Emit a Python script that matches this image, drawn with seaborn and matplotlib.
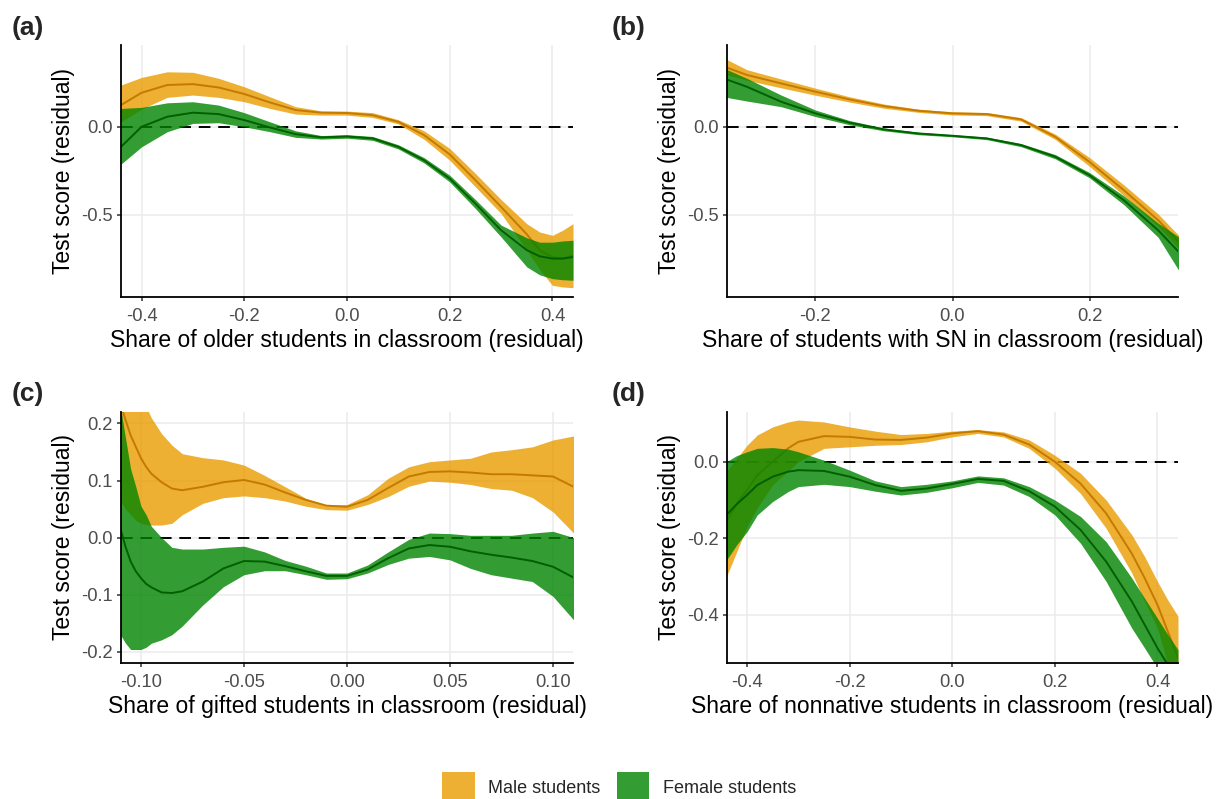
import numpy as np
import pandas as pd
import matplotlib
matplotlib.use("Agg")
import matplotlib.pyplot as plt
from matplotlib.patches import Patch
import seaborn as sns

sns.set_theme(style="white")
plt.rcParams['font.family'] = ['Liberation Sans', 'DejaVu Sans']
plt.rcParams['axes.unicode_minus'] = False

# ---------------- data ----------------
# Panel (a): older students
a_x = [-0.44, -0.40, -0.35, -0.30, -0.25, -0.20, -0.15, -0.10, -0.05, 0.00,
       0.05, 0.10, 0.15, 0.20, 0.25, 0.30, 0.35, 0.375, 0.40, 0.42, 0.44]
a_male = [0.123, 0.193, 0.237, 0.242, 0.223, 0.186, 0.138, 0.095, 0.080, 0.078,
          0.066, 0.028, -0.047, -0.157, -0.303, -0.455, -0.610, -0.700, -0.740, -0.748, -0.730]
a_male_hi = [0.237, 0.280, 0.312, 0.309, 0.275, 0.227, 0.170, 0.114, 0.090, 0.089,
             0.080, 0.040, -0.023, -0.123, -0.265, -0.413, -0.550, -0.597, -0.616, -0.587, -0.550]
a_male_lo = [0.028, 0.100, 0.167, 0.180, 0.167, 0.142, 0.104, 0.072, 0.066, 0.066,
             0.053, 0.016, -0.071, -0.190, -0.341, -0.492, -0.700, -0.810, -0.900, -0.909, -0.913]
a_fem = [-0.114, 0.000, 0.057, 0.080, 0.072, 0.038, -0.004, -0.042, -0.060, -0.055,
         -0.066, -0.114, -0.190, -0.294, -0.436, -0.587, -0.700, -0.735, -0.748, -0.748, -0.739]
a_fem_hi = [0.104, 0.110, 0.136, 0.142, 0.123, 0.080, 0.028, -0.023, -0.050, -0.045,
            -0.055, -0.102, -0.175, -0.275, -0.413, -0.558, -0.630, -0.655, -0.655, -0.648, -0.644]
a_fem_lo = [-0.212, -0.114, -0.028, 0.019, 0.023, 0.000, -0.028, -0.060, -0.070, -0.065,
            -0.077, -0.126, -0.205, -0.313, -0.464, -0.625, -0.795, -0.840, -0.862, -0.868, -0.871]

# Panel (b): students with SN
b_x = [-0.33, -0.30, -0.25, -0.20, -0.15, -0.10, -0.05, 0.00, 0.05, 0.10,
       0.15, 0.20, 0.25, 0.30, 0.33]
b_male = [0.337, 0.294, 0.246, 0.199, 0.155, 0.117, 0.091, 0.076, 0.072, 0.042,
          -0.057, -0.200, -0.360, -0.530, -0.653]
b_male_hi = [0.383, 0.324, 0.271, 0.219, 0.170, 0.129, 0.100, 0.085, 0.081, 0.052,
             -0.042, -0.175, -0.330, -0.495, -0.616]
b_male_lo = [0.295, 0.264, 0.221, 0.179, 0.140, 0.105, 0.082, 0.067, 0.063, 0.032,
             -0.072, -0.225, -0.390, -0.565, -0.690]
b_fem = [0.269, 0.227, 0.142, 0.076, 0.023, -0.015, -0.038, -0.051, -0.066, -0.104,
         -0.170, -0.275, -0.417, -0.587, -0.710]
b_fem_hi = [0.326, 0.275, 0.180, 0.095, 0.035, -0.007, -0.031, -0.045, -0.059, -0.095,
            -0.158, -0.260, -0.392, -0.547, -0.625]
b_fem_lo = [0.167, 0.146, 0.114, 0.058, 0.011, -0.023, -0.045, -0.057, -0.073, -0.113,
            -0.182, -0.290, -0.442, -0.627, -0.814]

# Panel (c): gifted students
c_x = [-0.110, -0.1075, -0.105, -0.1025, -0.100, -0.0975, -0.095, -0.090, -0.085, -0.080,
       -0.070, -0.060, -0.050, -0.040, -0.030, -0.020, -0.010, 0.000, 0.010, 0.020,
       0.030, 0.040, 0.050, 0.060, 0.070, 0.080, 0.090, 0.100, 0.110]
c_male = [0.235, 0.206, 0.179, 0.159, 0.139, 0.124, 0.112, 0.097, 0.086, 0.083,
          0.089, 0.097, 0.101, 0.093, 0.079, 0.066, 0.056, 0.054, 0.066, 0.087,
          0.107, 0.115, 0.116, 0.114, 0.111, 0.111, 0.109, 0.107, 0.089]
c_male_hi = [0.400, 0.380, 0.350, 0.300, 0.250, 0.230, 0.210, 0.182, 0.162, 0.147,
             0.140, 0.136, 0.127, 0.109, 0.089, 0.069, 0.057, 0.058, 0.075, 0.104,
             0.124, 0.133, 0.136, 0.139, 0.150, 0.154, 0.159, 0.171, 0.178]
c_male_lo = [0.065, 0.050, 0.040, 0.030, 0.025, 0.023, 0.022, 0.022, 0.025, 0.040,
             0.060, 0.070, 0.073, 0.070, 0.064, 0.055, 0.049, 0.048, 0.058, 0.072,
             0.090, 0.099, 0.097, 0.093, 0.086, 0.083, 0.070, 0.045, 0.008]
c_fem = [0.016, -0.016, -0.042, -0.059, -0.071, -0.081, -0.087, -0.096, -0.097, -0.094,
         -0.077, -0.054, -0.041, -0.042, -0.050, -0.059, -0.067, -0.067, -0.056, -0.036,
         -0.019, -0.013, -0.016, -0.024, -0.030, -0.035, -0.041, -0.051, -0.070]
c_fem_hi = [0.230, 0.174, 0.120, 0.089, 0.055, 0.040, 0.020, 0.000, -0.017, -0.020,
            -0.020, -0.017, -0.015, -0.025, -0.040, -0.050, -0.062, -0.062, -0.048, -0.025,
            -0.003, 0.008, 0.007, 0.004, 0.004, 0.004, 0.008, 0.011, 0.000]
c_fem_lo = [-0.170, -0.185, -0.196, -0.196, -0.196, -0.192, -0.185, -0.179, -0.170, -0.155,
            -0.118, -0.086, -0.065, -0.058, -0.058, -0.065, -0.073, -0.072, -0.062, -0.047,
            -0.036, -0.033, -0.039, -0.054, -0.065, -0.071, -0.077, -0.103, -0.144]

# Panel (d): nonnative students
d_x = [-0.44, -0.42, -0.40, -0.38, -0.35, -0.32, -0.30, -0.25, -0.20, -0.15,
       -0.10, -0.05, 0.00, 0.05, 0.10, 0.15, 0.20, 0.25, 0.30, 0.35,
       0.375, 0.40, 0.42, 0.44]
d_male = [-0.157, -0.109, -0.074, -0.035, 0.000, 0.035, 0.052, 0.067, 0.065, 0.058,
          0.057, 0.063, 0.074, 0.080, 0.071, 0.045, 0.000, -0.057, -0.135, -0.240,
          -0.304, -0.374, -0.443, -0.513]
d_male_hi = [-0.026, 0.009, 0.043, 0.070, 0.091, 0.104, 0.109, 0.104, 0.091, 0.080,
             0.071, 0.074, 0.080, 0.084, 0.078, 0.057, 0.017, -0.030, -0.100, -0.191,
             -0.248, -0.313, -0.361, -0.404]
d_male_lo = [-0.300, -0.235, -0.170, -0.120, -0.060, -0.025, 0.000, 0.035, 0.039, 0.043,
             0.045, 0.052, 0.065, 0.074, 0.065, 0.035, -0.017, -0.083, -0.174, -0.291,
             -0.365, -0.435, -0.530, -0.620]
d_fem = [-0.139, -0.111, -0.087, -0.061, -0.039, -0.026, -0.022, -0.024, -0.039, -0.061,
         -0.076, -0.070, -0.058, -0.045, -0.050, -0.077, -0.117, -0.178, -0.261, -0.365,
         -0.426, -0.487, -0.530, -0.574]
d_fem_hi = [0.000, 0.016, 0.026, 0.035, 0.037, 0.033, 0.026, 0.004, -0.022, -0.050,
            -0.065, -0.059, -0.050, -0.037, -0.042, -0.065, -0.100, -0.143, -0.209, -0.304,
            -0.357, -0.409, -0.452, -0.491]
d_fem_lo = [-0.257, -0.217, -0.183, -0.139, -0.104, -0.078, -0.065, -0.059, -0.065, -0.077,
            -0.087, -0.080, -0.068, -0.054, -0.061, -0.091, -0.139, -0.213, -0.313, -0.435,
            -0.487, -0.540, -0.590, -0.630]

panel_tags = ["(a)", "(b)", "(c)", "(d)"]
x_titles = ["Share of older students in classroom (residual)",
            "Share of students with SN in classroom (residual)",
            "Share of gifted students in classroom (residual)",
            "Share of nonnative students in classroom (residual)"]
y_title = "Test score (residual)"
legend_labels = ["Male students", "Female students"]

a_xticks = [-0.4, -0.2, 0.0, 0.2, 0.4]
b_xticks = [-0.2, 0.0, 0.2]
c_xticks = [-0.10, -0.05, 0.00, 0.05, 0.10]
d_xticks = [-0.4, -0.2, 0.0, 0.2, 0.4]
a_yticks = [-0.5, 0.0]
b_yticks = [-0.5, 0.0]
c_yticks = [-0.2, -0.1, 0.0, 0.1, 0.2]
d_yticks = [-0.4, -0.2, 0.0]

# ---------------- styling ----------------
MALE_FILL = "#E99C00"
FEM_FILL = "#008500"
MALE_LINE = "#C47A00"
FEM_LINE = "#006000"
ALPHA = 0.8
GRID = "#EBEBEB"
TICK_COL = "#4D4D4D"

W, H = 1223, 799
fig = plt.figure(figsize=(W / 100, H / 100), dpi=100)


def add_axes(px_left, px_top, px_right, px_bottom):
    return fig.add_axes([px_left / W, 1 - px_bottom / H,
                         (px_right - px_left) / W, (px_bottom - px_top) / H])


panels = [
    dict(box=(121, 45, 573, 297), x=a_x, m=(a_male, a_male_lo, a_male_hi),
         f=(a_fem, a_fem_lo, a_fem_hi), xlim=(-0.44, 0.44), ylim=(-0.966, 0.464),
         xt=a_xticks, yt=a_yticks, fmt="{:.1f}", tag=(12, 28)),
    dict(box=(727, 45, 1178, 297), x=b_x, m=(b_male, b_male_lo, b_male_hi),
         f=(b_fem, b_fem_lo, b_fem_hi), xlim=(-0.329, 0.329), ylim=(-0.966, 0.464),
         xt=b_xticks, yt=b_yticks, fmt="{:.1f}", tag=(612, 28)),
    dict(box=(121, 412, 573, 663), x=c_x, m=(c_male, c_male_lo, c_male_hi),
         f=(c_fem, c_fem_lo, c_fem_hi), xlim=(-0.1097, 0.1097), ylim=(-0.2196, 0.22),
         xt=c_xticks, yt=c_yticks, fmt="{:.2f}", tag=(12, 394)),
    dict(box=(727, 412, 1178, 663), x=d_x, m=(d_male, d_male_lo, d_male_hi),
         f=(d_fem, d_fem_lo, d_fem_hi), xlim=(-0.439, 0.44), ylim=(-0.526, 0.130),
         xt=d_xticks, yt=d_yticks, fmt="{:.1f}", tag=(612, 394)),
]

for i, p in enumerate(panels):
    ax = add_axes(*p["box"])
    ax.set_facecolor("white")
    xs = p["x"]
    ax.axhline(0, color="black", linestyle=(0, (6, 4)), linewidth=1.4, zorder=1)
    z = 2
    for (mid, lo, hi), fill, line in [(p["m"], MALE_FILL, MALE_LINE),
                                      (p["f"], FEM_FILL, FEM_LINE)]:
        ax.fill_between(xs, lo, hi, color=fill, alpha=ALPHA, linewidth=0, zorder=z)
        df = pd.DataFrame({"x": xs, "y": mid})
        sns.lineplot(data=df, x="x", y="y", color=line, linewidth=1.4, ax=ax,
                     zorder=z + 0.5, legend=False)
        ax.lines[-1].set_solid_joinstyle("round")
        z += 1

    ax.set_xlim(*p["xlim"])
    ax.set_ylim(*p["ylim"])
    ax.set_xticks(p["xt"])
    ax.set_xticklabels([p["fmt"].format(v) for v in p["xt"]])
    ax.set_yticks(p["yt"])
    ax.set_yticklabels([("{:.1f}").format(v) for v in p["yt"]])
    ax.grid(True, color=GRID, linewidth=1.1, zorder=0)
    ax.set_axisbelow(True)
    for s in ["top", "right"]:
        ax.spines[s].set_visible(False)
    for s in ["left", "bottom"]:
        ax.spines[s].set_color("black")
        ax.spines[s].set_linewidth(1.3)
        ax.spines[s].set_zorder(5)
    ax.tick_params(axis="both", direction="out", length=2.6, width=1.1, color="#333333",
                   labelsize=13.2, labelcolor=TICK_COL, bottom=True, left=True)
    ax.tick_params(axis="x", pad=5.5)
    ax.tick_params(axis="y", pad=3.5)
    ax.set_xlabel(x_titles[i], fontsize=16.5, color="black", labelpad=3)
    ax.set_ylabel(y_title, fontsize=16.5, color="black", labelpad=4)
    fig.text(p["tag"][0] / W, 1 - p["tag"][1] / H, panel_tags[i], fontsize=19,
             fontweight="bold", ha="left", va="center")

handles = [Patch(facecolor=MALE_FILL, alpha=ALPHA, edgecolor="none"),
           Patch(facecolor=FEM_FILL, alpha=ALPHA, edgecolor="none")]
fig.legend(handles, legend_labels, loc="center", bbox_to_anchor=(619 / W, 1 - 787 / H),
           ncol=2, frameon=False, fontsize=13, handlelength=1.8, handleheight=2.2,
           handletextpad=0.75, columnspacing=0.9, borderpad=0)

fig.savefig("out.png", dpi=100, facecolor="white")
